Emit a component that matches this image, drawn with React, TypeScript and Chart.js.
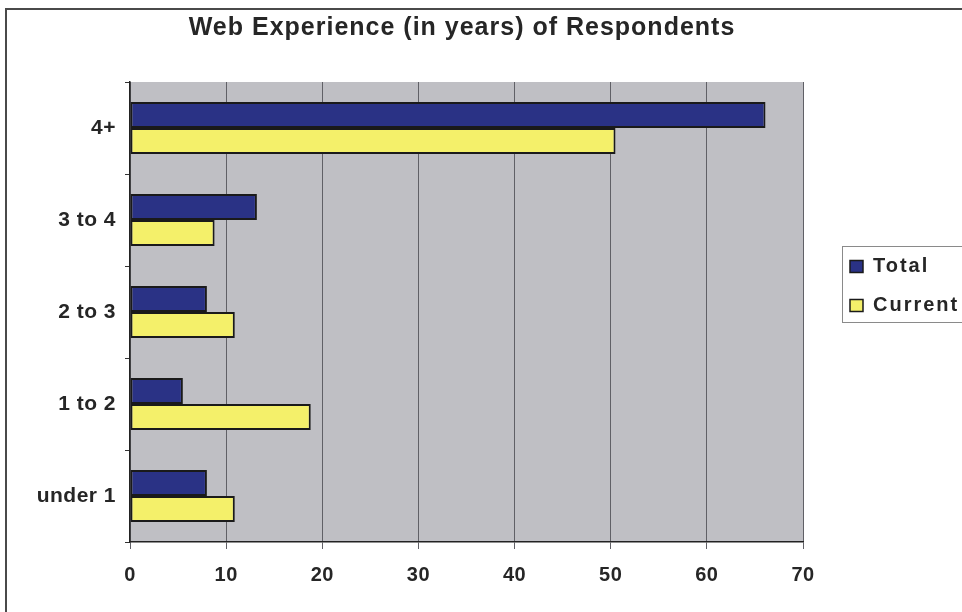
import React, { useEffect, useRef } from "react";
import { Chart, registerables } from "chart.js";

Chart.register(...registerables);

const titleText = "Web Experience (in years) of Respondents";
const categories = ["4+", "3 to 4", "2 to 3", "1 to 2", "under 1"];
const seriesNames = ["Total", "Current"];
const totalValues = [66.1, 13.2, 8.0, 5.5, 8.0];
const currentValues = [50.5, 8.8, 10.9, 18.8, 10.9];
const xMin = 0;
const xMax = 70;
const xStep = 10;

const FONT = "'Liberation Sans', Arial, sans-serif";
const NAVY = "#2a3285";
const YELLOW = "#f4f06a";
const BAR_BORDER = "#1a1a1a";
const TEXT = "#262626";
const PLOT_BG = "#bfbfc4";

const decoPlugin = {
  id: "deco",
  beforeDraw(chart: any) {
    const { ctx, chartArea } = chart;
    ctx.save();
    ctx.fillStyle = PLOT_BG;
    ctx.fillRect(chartArea.left, chartArea.top, chartArea.right - chartArea.left, chartArea.bottom - chartArea.top);
    ctx.restore();
    (ctx as any).letterSpacing = "0.5px";
  },
  afterDraw(chart: any) {
    const { ctx, chartArea, width } = chart;
    ctx.save();
    // frame lines (left and top)
    ctx.strokeStyle = "#4a4a4a";
    ctx.lineWidth = 2;
    ctx.beginPath();
    ctx.moveTo(6, 612);
    ctx.lineTo(6, 9);
    ctx.lineTo(width, 9);
    ctx.stroke();

    // title
    (ctx as any).letterSpacing = "1px";
    ctx.fillStyle = TEXT;
    ctx.font = `bold 25px ${FONT}`;
    ctx.textAlign = "center";
    ctx.textBaseline = "alphabetic";
    ctx.fillText(titleText, 462, 35);

    // legend box
    const lx = chartArea.right + 39;
    ctx.strokeStyle = "#8a8a8a";
    ctx.lineWidth = 1;
    ctx.strokeRect(lx + 0.5, 246.5, width, 76);
    const colors = [NAVY, YELLOW];
    const ys = [266.5, 305.5];
    (ctx as any).letterSpacing = "2px";
    ctx.font = `bold 20px ${FONT}`;
    ctx.textAlign = "left";
    ctx.textBaseline = "alphabetic";
    seriesNames.forEach((name, i) => {
      ctx.fillStyle = colors[i];
      ctx.fillRect(lx + 8, ys[i] - 6, 13, 12);
      ctx.strokeStyle = BAR_BORDER;
      ctx.lineWidth = 1.5;
      ctx.strokeRect(lx + 8, ys[i] - 6, 13, 12);
      ctx.fillStyle = TEXT;
      ctx.fillText(name, lx + 31, ys[i] + 5);
    });
    ctx.restore();
  },
};

export default function App() {
  const canvasRef = useRef<HTMLCanvasElement | null>(null);

  useEffect(() => {
    if (!canvasRef.current) return;
    const chart = new Chart(canvasRef.current, {
      type: "bar",
      data: {
        labels: categories,
        datasets: [
          {
            label: seriesNames[0],
            data: totalValues,
            backgroundColor: NAVY,
            borderColor: BAR_BORDER,
            borderWidth: 2,
            borderSkipped: false,
            categoryPercentage: 0.565,
            barPercentage: 1,
          },
          {
            label: seriesNames[1],
            data: currentValues,
            backgroundColor: YELLOW,
            borderColor: BAR_BORDER,
            borderWidth: 2,
            borderSkipped: false,
            categoryPercentage: 0.565,
            barPercentage: 1,
          },
        ],
      },
      options: {
        indexAxis: "y",
        animation: false,
        responsive: false,
        maintainAspectRatio: false,
        layout: { padding: { top: 82, right: 159, left: 0, bottom: 0 } },
        plugins: {
          legend: { display: false },
          title: { display: false },
          tooltip: { enabled: false },
        },
        scales: {
          x: {
            type: "linear",
            min: xMin,
            max: xMax,
            afterFit: (scale: any) => {
              scale.height = 70;
            },
            ticks: {
              stepSize: xStep,
              color: TEXT,
              font: { family: FONT, size: 20, weight: "bold" },
              padding: 14,
            },
            grid: {
              color: "#606066",
              lineWidth: 1,
              tickLength: 7,
              drawTicks: true,
            },
            border: { color: "#222", width: 1.5 },
          },
          y: {
            type: "category",
            offset: true,
            afterFit: (scale: any) => {
              scale.width = 130;
            },
            ticks: {
              color: TEXT,
              font: { family: FONT, size: 21, weight: "bold" },
              padding: 9,
            },
            grid: {
              display: true,
              drawOnChartArea: false,
              drawTicks: true,
              tickLength: 5,
              offset: true,
              color: "#333",
            },
            border: { color: "#222", width: 1.5 },
          },
        },
      },
      plugins: [decoPlugin],
    });
    return () => chart.destroy();
  }, []);

  return (
    <div style={{ position: "absolute", left: 0, top: 0, width: 962, height: 612 }}>
      <canvas ref={canvasRef} width={962} height={612} style={{ width: 962, height: 612, display: "block" }} />
    </div>
  );
}
